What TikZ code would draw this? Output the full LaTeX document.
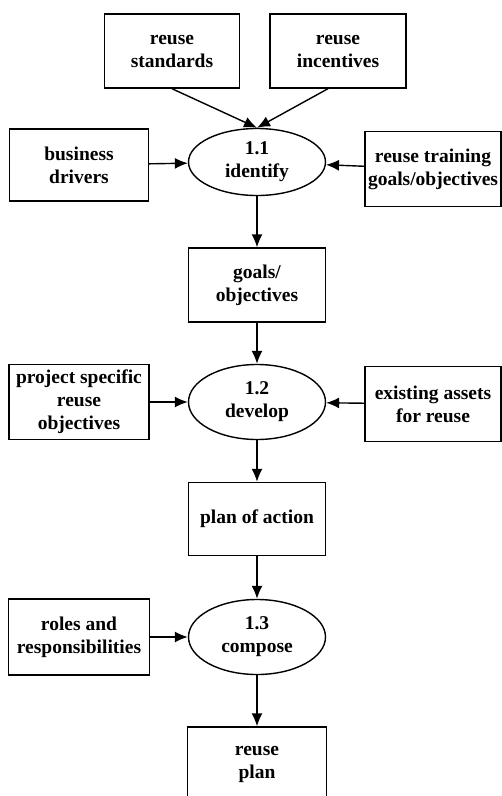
\documentclass[tikz,border=0pt]{standalone}
\usepackage{fontspec}
\setmainfont{Liberation Serif}
\usetikzlibrary{shapes.geometric,arrows.meta}

\begin{document}
\begin{tikzpicture}[x=1pt, y=1pt, node distance=118pt, line width=1.4pt,
  every node/.style={font=\bfseries\fontsize{19.5}{23}\selectfont, align=center},
  box/.style={draw, rectangle, minimum width=137pt, minimum height=74pt, inner sep=1pt},
  proc/.style={draw, ellipse, minimum width=137pt, minimum height=72pt, inner sep=0pt},
  >={Latex[length=13pt,width=11pt]}]
  \useasboundingbox (0,0) rectangle (502,-796);

  % identify
  \node (identify) [proc, minimum height=67pt] at (257,-162) {1.1\\identify};
  \node (standards) [box, above of=identify, node distance=111pt, xshift=-85pt, minimum width=135pt] {reuse\\standards};
  \node (incentives) [box, above of=identify, node distance=111pt, xshift=81pt, minimum width=136pt] {reuse\\incentives};
  \node (drivers) [box, left of=identify, node distance=178pt, yshift=-3pt, minimum width=139pt, minimum height=72pt] {business\\drivers};
  \node (training) [box, right of=identify, node distance=176pt, yshift=-7pt, minimum width=136pt, minimum height=75pt] {reuse training\\goals/objectives};
  \node (goals) [box, below of=identify, node distance=123pt] {goals/\\objectives};

  % develop
  \node (develop) [proc, below of=goals, node distance=117pt, minimum height=75pt] {1.2\\develop};
  \node (project) [box, left of=develop, node distance=178pt, minimum width=140pt, minimum height=75pt] {project specific\\reuse\\objectives};
  \node (assets) [box, right of=develop, node distance=176pt, yshift=-2pt, minimum width=136pt, minimum height=75pt] {existing assets\\for reuse};
  \node (plan) [box, below of=develop, node distance=117pt, minimum height=73pt] {plan of action};

  % compose
  \node (compose) [proc, below of=plan, node distance=118pt, minimum height=75pt] {1.3\\compose};
  \node (roles) [box, left of=compose, node distance=178pt, minimum width=141pt, minimum height=76pt] {roles and\\responsibilities};
  \node (reuseplan) [box, below of=compose, node distance=127pt, minimum width=139pt] {reuse\\plan};

  \draw[->] (standards.south) -- (identify.north);
  \draw[->] ([xshift=-10pt]incentives.south) -- (identify.north);
  \draw[->] (drivers) -- (identify);
  \draw[->] (training) -- (identify);
  \draw[->] (identify) -- (goals);
  \draw[->] (goals) -- (develop);
  \draw[->] (project) -- (develop);
  \draw[->] (assets) -- (develop);
  \draw[->] (develop) -- (plan);
  \draw[->] (plan) -- (compose);
  \draw[->] (roles) -- (compose);
  \draw[->] (compose) -- (reuseplan);
\end{tikzpicture}
\end{document}
